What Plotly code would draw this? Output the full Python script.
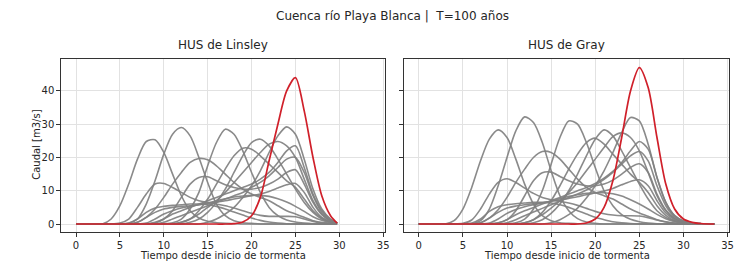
import plotly.graph_objects as go

# ---------------- data ----------------
t_linsley = list(range(0, 30)) + [29.75]
t_gray = list(range(0, 33)) + [33.5]

# HUS de Linsley  (gray hydrographs, values at t_linsley)
lin_1 = [0,0,0,0,1.5,5.5,12,19.5,24.8,25.3,21.5,15,8.5,4,1.8,0.8,0.4,0.2,0.1,0,0,0,0,0,0,0,0,0,0,0,0]
lin_2 = [0,0,0,0,0,0,0.2,1.5,6,13,21,27,29,26.5,20,12.5,6,2.5,1,0.4,0.2,0,0,0,0,0,0,0,0,0,0]
lin_3 = [0,0,0,0,0,0,0,0,0,0,0.1,0.4,1.5,4.5,9.5,17.5,24.5,28.5,27,22,15.5,9.5,5,2.5,1.2,0.6,0.3,0.1,0,0,0]
lin_4 = [0,0,0,0,0,0,0,0,0,0,0,0,0,0.5,1.5,3.5,6.5,10.5,15.5,20.5,24.5,25.5,23.5,19.5,15,10.5,6.5,3.5,1.5,0.5,0.2]
lin_5 = [0,0,0,0,0,0,0,0,0,0,0,0,0,0,0,0.5,1.5,3,5,8,11.5,16,21.5,26.5,29.2,27,19.5,10.5,4.5,1.5,0.3]
lin_6 = [0,0,0,0,0,0,0,0,0,0,0,0,0.5,1.5,3,5,7,9.5,12.5,15.5,18.5,21.5,24,24.8,23.5,20,13.5,7,3,1,0.3]
lin_7 = [0,0,0,0,0,0,0,0,0,0.5,1.5,3,4,5,6,7,8,9,10,11,12,13.5,15.5,18.5,22,23.5,17,9,4,1.3,0.3]
lin_8 = [0,0,0,0,0,0,0,0.5,2,4.5,8,12,15.5,18.5,19.7,19.3,17.5,15,12.5,10.5,9,8,7,5.5,4,3,2,1,0.5,0.2,0]
lin_9 = [0,0,0,0,0,0,0,0,0,0,0,0,0.5,1.5,4,7.5,12,16.5,20.5,22.8,22.5,20.5,18,15.5,13,11,7.5,4,1.8,0.6,0.2]
lin_10 = [0,0,0,0,0,0.3,1.5,5,9,12,12.2,11,9.5,8,7,6.5,6,5.5,4.8,4,3.2,2.6,2.3,2.3,2.3,2.2,1.5,0.8,0.3,0.1,0]
lin_11 = [0,0,0,0,0,0,0,0,0,0.3,1.5,4,8,12,14,14.2,13,11.8,11,10.5,10.5,11,12,13.5,15.5,16.3,12,6.5,2.8,0.9,0.2]
lin_12 = [0,0,0,0,0,0,0,0.5,2,3.5,4.5,5,5.3,5.5,5.8,6.2,6.6,7,7.5,8,8.5,9,9.8,10.8,11.8,12.2,9.5,5,2,0.7,0.2]
lin_13 = [0,0,0,0,0,0,0.3,1.5,3.5,4.8,5.3,5.6,5.8,6,6,5.8,5.3,4.5,3.6,2.7,1.8,1.1,0.6,0.3,0.1,0,0,0,0,0,0]
lin_14 = [0,0,0,0,0,0,0,0,0.3,1.5,3,4,4.8,5.3,5.8,6.3,7,7.6,8.1,8.4,8.6,8.6,8.3,7.6,6.6,5.3,3.8,2.2,1.1,0.4,0.1]
lin_15 = [0,0,0,0,0,0,0,0,0,0,0.5,1.5,2.5,3.5,4.5,5.5,6.5,7.5,8.5,9.5,11,12.5,14.5,17,19.5,20,15.5,8.5,3.5,1.1,0.3]
lin_red = [0,0,0,0,0,0,0,0,0,0,0,0,0,0,0,0,0,0,0.1,0.6,2.5,8,19,30,40,44,34,20,8.5,2.5,0.3]

# HUS de Gray  (gray hydrographs, values at t_gray)
gray_1 = [0,0,0,0,1,4.5,11,19,25.5,28.3,26,19.5,12,6,2.5,1,0.4,0.2,0.1,0,0,0,0,0,0,0,0,0,0,0,0,0,0,0]
gray_2 = [0,0,0,0,0,0,0.1,1,4.5,11.5,20,28,32.2,30.5,24.5,16,8.5,4,1.6,0.6,0.2,0,0,0,0,0,0,0,0,0,0,0,0,0]
gray_3 = [0,0,0,0,0,0,0,0,0,0,0.1,0.4,1.5,4.5,10,18,26,31,30,24.5,17,10,5.5,2.8,1.4,0.7,0.3,0.1,0,0,0,0,0,0]
gray_4 = [0,0,0,0,0,0,0,0,0,0,0,0,0,0.4,1.3,3.2,6,10,15,20.5,25.5,28.3,26.5,22,17,12,7.5,4,2,0.9,0.4,0.15,0.05,0]
gray_5 = [0,0,0,0,0,0,0,0,0,0,0,0,0,0,0,0.4,1.3,2.8,4.8,7.8,11.5,16,21.5,27.5,32,31,24,14,6.5,2.5,0.9,0.3,0.1,0]
gray_6 = [0,0,0,0,0,0,0,0,0,0,0,0,0.4,1.3,2.8,4.8,7,9.5,12.5,16,19.5,23,26.3,27.4,26,22,15.5,8.5,4,1.6,0.6,0.2,0.05,0]
gray_7 = [0,0,0,0,0,0,0,0,0,0.4,1.3,2.8,4,5,6,7,8,9,10,11,12.2,13.8,15.8,18.5,22,24.8,22.5,14,6.5,2.5,0.9,0.3,0.1,0]
gray_8 = [0,0,0,0,0,0,0,0.4,1.8,4.3,8,12.5,16.5,20,21.8,21.5,19.5,16.5,13.5,11,9.5,8.5,7.5,6,4.5,3.3,2.3,1.3,0.7,0.3,0.1,0,0,0]
gray_9 = [0,0,0,0,0,0,0,0,0,0,0,0,0.4,1.3,3.5,7,11.5,16.5,21,24.5,25.8,24,21,18,15,12.5,9.5,5.5,2.6,1,0.4,0.15,0.05,0]
gray_10 = [0,0,0,0,0,0.2,1.2,4.5,9,12.5,13.6,12.5,10.8,9.2,8,7.3,6.8,6.3,5.6,4.7,3.8,3.1,2.7,2.5,2.5,2.4,1.9,1.2,0.6,0.25,0.1,0,0,0]
gray_11 = [0,0,0,0,0,0,0,0,0,0.3,1.3,4,8.5,13,15.4,15.6,14.3,13,12,11.5,11.5,12,13.2,15,17,18.1,15.5,9,4.2,1.6,0.6,0.2,0.05,0]
gray_12 = [0,0,0,0,0,0,0,0.4,1.8,3.5,4.8,5.4,5.8,6.1,6.4,6.8,7.2,7.7,8.2,8.8,9.3,9.9,10.7,11.8,12.8,13.3,11.5,7,3.3,1.3,0.5,0.2,0.05,0]
gray_13 = [0,0,0,0,0,0,0.3,1.5,3.8,5.2,5.8,6.1,6.3,6.5,6.5,6.3,5.8,5,4,3,2,1.3,0.7,0.35,0.15,0.05,0,0,0,0,0,0,0,0]
gray_14 = [0,0,0,0,0,0,0,0,0.3,1.5,3.2,4.4,5.2,5.8,6.3,6.9,7.6,8.3,8.8,9.2,9.4,9.4,9.1,8.4,7.3,6,4.5,2.9,1.6,0.7,0.3,0.1,0,0]
gray_15 = [0,0,0,0,0,0,0,0,0,0,0.4,1.3,2.5,3.6,4.7,5.8,6.9,8,9,10.2,11.7,13.4,15.5,18,20.5,21.8,19,11.5,5.5,2.1,0.8,0.3,0.1,0]
gray_red = [0,0,0,0,0,0,0,0,0,0,0,0,0,0,0,0,0,0,0,0.3,1.5,5,13,26,40,47,41,26,12,4.5,1.5,0.5,0.15,0]

lin_grays = [lin_1, lin_2, lin_3, lin_4, lin_5, lin_6, lin_7, lin_8, lin_9, lin_10,
             lin_11, lin_12, lin_13, lin_14, lin_15]
gray_grays = [gray_1, gray_2, gray_3, gray_4, gray_5, gray_6, gray_7, gray_8, gray_9, gray_10,
              gray_11, gray_12, gray_13, gray_14, gray_15]

x_ticks = [0, 5, 10, 15, 20, 25, 30, 35]
y_ticks = [0, 10, 20, 30, 40]

title_text = "Cuenca río Playa Blanca |  T=100 años"
panel_titles = ["HUS de Linsley", "HUS de Gray"]
x_title = "Tiempo desde inicio de tormenta"
y_title = "Caudal [m3/s]"

# ---------------- figure ----------------
# the page body has an 8px margin, so the figure is drawn 8px in from the corner
OFF = 8
W, H = 748 - OFF, 267 - OFF
GRAY = "rgba(128,128,128,0.92)"
RED = "#d0202a"
FONT = "DejaVu Sans"
TXT = "#262626"


def px(x):
    return (x - OFF) / W


def py(y):
    return 1 - (y - OFF) / H


fig = go.Figure()
for ys in lin_grays:
    fig.add_trace(go.Scatter(x=t_linsley, y=ys, mode="lines", xaxis="x", yaxis="y",
                             line=dict(color=GRAY, width=1.6, shape="spline", smoothing=0.8),
                             showlegend=False, hoverinfo="skip"))
fig.add_trace(go.Scatter(x=t_linsley, y=lin_red, mode="lines", xaxis="x", yaxis="y",
                         line=dict(color=RED, width=1.7, shape="spline", smoothing=0.8),
                         showlegend=False))
for ys in gray_grays:
    fig.add_trace(go.Scatter(x=t_gray, y=ys, mode="lines", xaxis="x2", yaxis="y2",
                             line=dict(color=GRAY, width=1.6, shape="spline", smoothing=0.8),
                             showlegend=False, hoverinfo="skip"))
fig.add_trace(go.Scatter(x=t_gray, y=gray_red, mode="lines", xaxis="x2", yaxis="y2",
                         line=dict(color=RED, width=1.7, shape="spline", smoothing=0.8),
                         showlegend=False))

xl0, xl1 = px(61.7), px(387.3)
xr0, xr1 = px(406.7), px(734.0)
yb, yt = py(232), py(59)

common_x = dict(range=[-1.675, 35.175], tickvals=x_ticks, ticks="outside", ticklen=4,
                tickcolor="#333", showline=True, mirror=True, linecolor="#333", linewidth=1,
                showgrid=True, gridcolor="#e2e2e2", gridwidth=1, zeroline=False,
                tickfont=dict(family=FONT, size=10, color=TXT))
common_y = dict(range=[-2.4, 49.6], tickvals=y_ticks, ticks="outside", ticklen=4,
                tickcolor="#333", showline=True, mirror=True, linecolor="#333", linewidth=1,
                showgrid=True, gridcolor="#e2e2e2", gridwidth=1, zeroline=False,
                tickfont=dict(family=FONT, size=10, color=TXT))

fig.update_layout(
    width=W, height=H,
    margin=dict(l=0, r=0, t=0, b=0),
    paper_bgcolor="white", plot_bgcolor="white",
    showlegend=False,
    xaxis=dict(domain=[xl0, xl1], anchor="y", **common_x),
    yaxis=dict(domain=[yb, yt], anchor="x", **common_y),
    xaxis2=dict(domain=[xr0, xr1], anchor="y2", **common_x),
    yaxis2=dict(domain=[yb, yt], anchor="x2", showticklabels=False, **common_y),
    annotations=[
        dict(text=title_text, x=px(395), y=py(16), xref="paper", yref="paper",
             showarrow=False, xanchor="center", yanchor="middle",
             font=dict(family=FONT, size=12, color=TXT)),
        dict(text=panel_titles[0], x=(xl0 + xl1) / 2, y=py(45), xref="paper", yref="paper",
             showarrow=False, xanchor="center", yanchor="middle",
             font=dict(family=FONT, size=12, color=TXT)),
        dict(text=panel_titles[1], x=(xr0 + xr1) / 2, y=py(45), xref="paper", yref="paper",
             showarrow=False, xanchor="center", yanchor="middle",
             font=dict(family=FONT, size=12, color=TXT)),
        dict(text=x_title, x=(xl0 + xl1) / 2, y=py(255), xref="paper", yref="paper",
             showarrow=False, xanchor="center", yanchor="middle",
             font=dict(family=FONT, size=10, color=TXT)),
        dict(text=x_title, x=(xr0 + xr1) / 2, y=py(255), xref="paper", yref="paper",
             showarrow=False, xanchor="center", yanchor="middle",
             font=dict(family=FONT, size=10, color=TXT)),
        dict(text=y_title, x=px(36), y=py(145), xref="paper", yref="paper",
             showarrow=False, xanchor="center", yanchor="middle", textangle=-90,
             font=dict(family=FONT, size=10, color=TXT)),
    ],
)

fig.write_html("out.html")
